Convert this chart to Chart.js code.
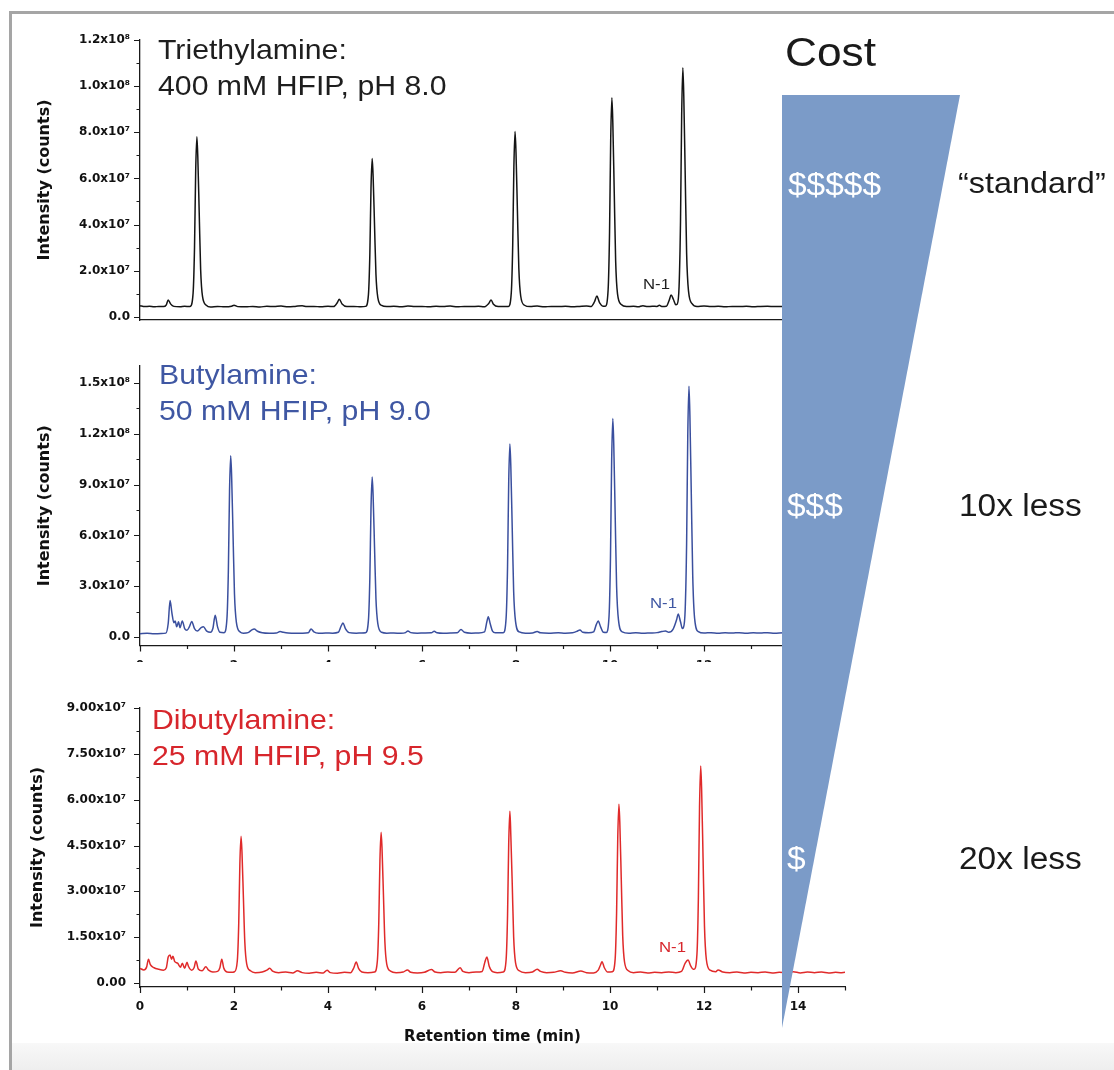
<!DOCTYPE html>
<html><head><meta charset="utf-8">
<script src="https://cdn.jsdelivr.net/npm/chart.js@4.4.1/dist/chart.umd.min.js"></script>
<style>
html,body{margin:0;padding:0;background:#fff;}
#stage{position:relative;width:1114px;height:1070px;overflow:hidden;background:#fff;font-family:"Liberation Sans",Arial,sans-serif;}
.pane{position:absolute;left:0;width:1114px;overflow:hidden;}
.pane canvas{display:block;}
.txt{position:absolute;white-space:nowrap;transform-origin:0 0;transform:scaleX(1.08);}
</style></head><body>
<div id="stage">
  <div style="position:absolute;left:9px;top:11px;width:3px;height:1059px;background:#a5a5a5"></div>
  <div style="position:absolute;left:9px;top:11px;width:1105px;height:3px;background:#a5a5a5"></div>
  <div style="position:absolute;left:12px;top:1043px;width:1102px;height:27px;background:linear-gradient(#f8f8f8,#eeeeee)"></div>

  <div class="pane" style="top:0;height:340px"><canvas id="c1" width="1114" height="340" style="width:1114px;height:340px"></canvas></div>
  <div class="pane" style="top:330px;height:332px"><canvas id="c2" width="1114" height="340" style="width:1114px;height:340px"></canvas></div>
  <div class="pane" style="top:662px;height:408px"><canvas id="c3" width="1114" height="408" style="width:1114px;height:408px"></canvas></div>

  <div class="txt" style="left:158px;top:32px;font-size:28px;line-height:36px;color:#1e1e1e">Triethylamine:<br>400 mM HFIP, pH 8.0</div>
  <div class="txt" style="left:159px;top:357px;font-size:28px;line-height:36px;color:#3f57a3">Butylamine:<br>50 mM HFIP, pH 9.0</div>
  <div class="txt" style="left:152px;top:702px;font-size:28px;line-height:36px;color:#d7262c">Dibutylamine:<br>25 mM HFIP, pH 9.5</div>

  <div class="txt" style="left:643px;top:276px;font-size:15.5px;line-height:15px;color:#1e1e1e">N-1</div>
  <div class="txt" style="left:650px;top:595px;font-size:15.5px;line-height:15px;color:#3f57a3">N-1</div>
  <div class="txt" style="left:659px;top:939px;font-size:15.5px;line-height:15px;color:#d7262c">N-1</div>

  <svg style="position:absolute;left:0;top:0" width="1114" height="1070"><polygon points="782,95 960,95 782,1028" fill="#7b9bc8"/></svg>

  <div class="txt" style="left:785px;top:32px;font-size:41px;line-height:41px;color:#1a1a1a">Cost</div>
  <div class="txt" style="left:788px;top:169px;font-size:31px;line-height:31px;color:#ffffff">$$$$$</div>
  <div class="txt" style="left:958px;top:168px;font-size:30px;line-height:30px;color:#1a1a1a">“standard”</div>
  <div class="txt" style="left:787px;top:490px;font-size:31px;line-height:31px;color:#ffffff">$$$</div>
  <div class="txt" style="left:959px;top:490px;font-size:31px;line-height:31px;color:#1a1a1a">10x less</div>
  <div class="txt" style="left:787px;top:843px;font-size:31px;line-height:31px;color:#ffffff">$</div>
  <div class="txt" style="left:959px;top:843px;font-size:31px;line-height:31px;color:#1a1a1a">20x less</div>
</div>
<script>
// ---------------- data ----------------
const timeTicks = [0, 2, 4, 6, 8, 10, 12, 14];
const timeTickLabels = ['0', '2', '4', '6', '8', '10', '12', '14'];
const timeMinorTicks = [1, 3, 5, 7, 9, 11, 13, 15];

const teaTicks = [0, 2e7, 4e7, 6e7, 8e7, 1e8, 1.2e8];
const teaTickLabels = ['0.0', '2.0x10⁷', '4.0x10⁷', '6.0x10⁷', '8.0x10⁷', '1.0x10⁸', '1.2x10⁸'];
const teaMinorTicks = [1e7, 3e7, 5e7, 7e7, 9e7, 1.1e8];

const buaTicks = [0, 3e7, 6e7, 9e7, 1.2e8, 1.5e8];
const buaTickLabels = ['0.0', '3.0x10⁷', '6.0x10⁷', '9.0x10⁷', '1.2x10⁸', '1.5x10⁸'];
const buaMinorTicks = [1.5e7, 4.5e7, 7.5e7, 1.05e8, 1.35e8];

const dbaTicks = [0, 1.5e7, 3e7, 4.5e7, 6e7, 7.5e7, 9e7];
const dbaTickLabels = ['0.00', '1.50x10⁷', '3.00x10⁷', '4.50x10⁷', '6.00x10⁷', '7.50x10⁷', '9.00x10⁷'];
const dbaMinorTicks = [0.75e7, 2.25e7, 3.75e7, 5.25e7, 6.75e7, 8.25e7];

// Triethylamine trace: [retention time (min), intensity (counts)]
const teaTrace = [
  [0.00, 4.8e6], [0.1, 4.4e6], [0.2, 4.6e6], [0.3, 4.3e6], [0.4, 4.5e6], [0.5, 4.4e6], [0.56, 5.2e6], [0.6, 7.3e6], [0.65, 5.6e6], [0.72, 4.5e6], [0.85, 4.3e6], [0.95, 4.6e6], [1.05, 4.4e6],
  [1.07, 4.5e6], [1.13, 10.3e6], [1.16, 30.2e6], [1.185, 63.3e6], [1.21, 78e6], [1.23, 69.2e6], [1.26, 44.9e6], [1.29, 20.6e6], [1.33, 8.8e6], [1.41, 5.0e6],
  [1.5, 4.2e6], [1.65, 4.5e6], [1.8, 4.3e6], [1.95, 4.6e6], [2.0, 5.0e6], [2.08, 4.4e6], [2.25, 4.3e6], [2.4, 4.5e6], [2.55, 4.2e6], [2.7, 4.6e6], [2.85, 4.4e6], [3.0, 4.7e6], [3.15, 4.3e6], [3.3, 4.5e6], [3.45, 4.8e6], [3.55, 4.4e6], [3.7, 4.5e6], [3.85, 4.3e6], [4.0, 4.6e6], [4.12, 4.4e6], [4.2, 6.2e6], [4.24, 7.6e6], [4.3, 5.5e6], [4.4, 4.4e6], [4.55, 4.5e6], [4.7, 4.3e6],
  [4.80, 4.5e6], [4.86, 9.5e6], [4.89, 26.9e6], [4.915, 55.8e6], [4.94, 68.6e6], [4.96, 60.9e6], [4.99, 39.7e6], [5.02, 18.5e6], [5.06, 8.3e6], [5.14, 4.9e6],
  [5.25, 4.4e6], [5.4, 4.6e6], [5.55, 4.3e6], [5.7, 4.7e6], [5.85, 4.4e6], [6.0, 4.5e6], [6.15, 4.3e6], [6.3, 4.6e6], [6.45, 4.4e6], [6.6, 4.7e6], [6.75, 4.3e6], [6.9, 4.5e6], [7.05, 4.4e6], [7.2, 4.6e6], [7.32, 4.3e6], [7.42, 5.8e6], [7.47, 7.3e6], [7.52, 5.4e6], [7.62, 4.4e6], [7.75, 4.5e6],
  [7.84, 4.5e6], [7.90, 10.5e6], [7.93, 31.0e6], [7.955, 65.1e6], [7.98, 80.3e6], [8.00, 71.2e6], [8.03, 46.1e6], [8.06, 21.1e6], [8.10, 9.0e6], [8.18, 5.0e6],
  [8.3, 4.4e6], [8.45, 4.7e6], [8.6, 4.3e6], [8.75, 4.5e6], [8.9, 4.4e6], [9.05, 4.6e6], [9.2, 4.3e6], [9.35, 4.5e6], [9.5, 4.7e6], [9.6, 4.5e6], [9.67, 6.5e6], [9.72, 9.0e6], [9.78, 6.0e6], [9.85, 4.6e6],
  [9.90, 4.6e6], [9.96, 11.7e6], [9.99, 36.2e6], [10.015, 76.9e6], [10.04, 95e6], [10.06, 84.1e6], [10.09, 54.3e6], [10.12, 24.4e6], [10.16, 9.9e6], [10.24, 5.3e6],
  [10.35, 4.4e6], [10.5, 4.6e6], [10.6, 4.3e6], [10.7, 4.8e6], [10.8, 4.4e6], [10.9, 4.6e6], [11.0, 4.5e6], [11.05, 5.0e6], [11.1, 4.5e6], [11.2, 4.6e6], [11.26, 7.2e6], [11.3, 9.4e6], [11.35, 7.5e6], [11.4, 5.2e6],
  [11.43, 5.5e6], [11.47, 13.2e6], [11.50, 41.1e6], [11.525, 87.4e6], [11.55, 108e6], [11.57, 95.6e6], [11.60, 61.7e6], [11.63, 27.7e6], [11.67, 11.2e6], [11.75, 5.6e6],
  [11.85, 4.5e6], [12.0, 4.7e6], [12.15, 4.4e6], [12.3, 4.6e6], [12.45, 4.3e6], [12.6, 4.5e6], [12.75, 4.4e6], [12.9, 4.6e6], [13.05, 4.3e6], [13.2, 4.5e6], [13.35, 4.6e6], [13.5, 4.4e6], [13.65, 4.5e6], [13.8, 4.3e6], [13.95, 4.6e6], [14.1, 4.4e6], [14.3, 4.5e6], [14.5, 4.4e6], [14.7, 4.6e6], [15.0, 4.5e6]
];

// Butylamine trace
const buaTrace = [
  [0.0, 2.0e6], [0.15, 2.2e6], [0.3, 1.9e6], [0.45, 2.1e6], [0.55, 2.3e6], [0.6, 8e6], [0.64, 21.5e6], [0.68, 14e6], [0.72, 8.5e6], [0.75, 9.5e6], [0.78, 6e6], [0.82, 9e6], [0.85, 5.5e6], [0.9, 9.5e6], [0.95, 5e6], [1.0, 4e6], [1.05, 6e6], [1.1, 9.2e6], [1.16, 5e6], [1.22, 3.5e6], [1.3, 5.5e6], [1.35, 6e6], [1.42, 3.5e6], [1.5, 2.8e6], [1.55, 5e6], [1.6, 12.8e6], [1.65, 6e6], [1.7, 2.8e6], [1.79, 2.6e6],
  [1.85, 10.9e6], [1.88, 39.1e6], [1.905, 86.1e6], [1.93, 107e6], [1.95, 94.5e6], [1.98, 60e6], [2.01, 25.5e6], [2.05, 8.8e6], [2.13, 3.0e6],
  [2.2, 2.3e6], [2.3, 2.6e6], [2.38, 4.2e6], [2.43, 4.7e6], [2.5, 3.4e6], [2.6, 2.5e6], [2.75, 2.2e6], [2.9, 2.4e6], [2.98, 3.2e6], [3.05, 2.8e6], [3.15, 2.4e6], [3.3, 2.2e6], [3.45, 2.3e6], [3.58, 2.5e6], [3.64, 4.8e6], [3.7, 3e6], [3.8, 2.2e6], [3.95, 2.4e6], [4.1, 2.3e6], [4.22, 2.8e6], [4.28, 6.5e6], [4.32, 8.3e6], [4.37, 5e6], [4.45, 2.6e6], [4.6, 2.3e6], [4.72, 2.4e6],
  [4.80, 2.5e6], [4.86, 9.8e6], [4.89, 34.6e6], [4.915, 76.1e6], [4.94, 94.5e6], [4.96, 83.4e6], [4.99, 53.1e6], [5.02, 22.7e6], [5.06, 7.9e6], [5.14, 2.8e6],
  [5.25, 2.3e6], [5.4, 2.4e6], [5.55, 2.2e6], [5.65, 2.6e6], [5.7, 3.6e6], [5.76, 2.6e6], [5.9, 2.3e6], [6.05, 2.4e6], [6.2, 2.5e6], [6.26, 3.4e6], [6.32, 2.5e6], [6.45, 2.2e6], [6.6, 2.4e6], [6.75, 2.5e6], [6.83, 4.5e6], [6.9, 2.8e6], [7.05, 2.3e6], [7.2, 2.4e6], [7.33, 3e6], [7.38, 9e6], [7.41, 12e6], [7.45, 8e6], [7.5, 3.5e6], [7.56, 2.6e6],
  [7.73, 2.6e6], [7.79, 11.4e6], [7.82, 41.5e6], [7.845, 91.7e6], [7.87, 114e6], [7.89, 100.6e6], [7.92, 63.8e6], [7.95, 27e6], [7.99, 9.2e6], [8.07, 3.0e6],
  [8.2, 2.3e6], [8.35, 2.4e6], [8.45, 3.2e6], [8.52, 2.5e6], [8.7, 2.3e6], [8.9, 2.5e6], [9.05, 2.3e6], [9.2, 2.5e6], [9.3, 3.4e6], [9.36, 4.2e6], [9.42, 2.8e6], [9.55, 2.5e6], [9.65, 3e6], [9.71, 7.5e6], [9.75, 9.4e6], [9.8, 6e6], [9.86, 2.8e6],
  [9.92, 2.7e6], [9.98, 12.6e6], [10.01, 46.8e6], [10.035, 103.7e6], [10.06, 129e6], [10.08, 113.8e6], [10.11, 72.1e6], [10.14, 30.3e6], [10.18, 10.1e6], [10.26, 3.1e6],
  [10.4, 2.3e6], [10.55, 2.5e6], [10.7, 2.2e6], [10.85, 2.4e6], [11.0, 2.6e6], [11.1, 3.2e6], [11.18, 3.6e6], [11.25, 2.8e6], [11.34, 4.5e6], [11.42, 10.5e6], [11.45, 13.6e6], [11.5, 9e6], [11.54, 5.0e6],
  [11.56, 5.5e6], [11.60, 16.4e6], [11.63, 55e6], [11.655, 119.4e6], [11.68, 148e6], [11.70, 130.8e6], [11.73, 83.7e6], [11.76, 36.5e6], [11.80, 11.1e6], [11.88, 3.2e6],
  [12.0, 2.4e6], [12.15, 2.6e6], [12.3, 2.3e6], [12.45, 2.5e6], [12.6, 2.4e6], [12.75, 2.6e6], [12.9, 2.3e6], [13.05, 2.5e6], [13.2, 2.4e6], [13.35, 2.6e6], [13.5, 2.3e6], [13.7, 2.5e6], [14.0, 2.4e6], [14.5, 2.5e6], [15.0, 2.4e6]
];

// Dibutylamine trace
const dbaTrace = [
  [0.0, 4.8e6], [0.08, 4.3e6], [0.14, 5.2e6], [0.18, 7.8e6], [0.22, 6e6], [0.3, 5e6], [0.4, 4.5e6], [0.5, 4.2e6], [0.56, 5e6], [0.6, 8.5e6], [0.64, 9.2e6], [0.67, 7.8e6], [0.7, 8.8e6], [0.74, 7e6], [0.8, 6.5e6], [0.86, 5.2e6], [0.9, 6.5e6], [0.95, 4.8e6], [1.0, 6.8e6], [1.03, 5.5e6], [1.1, 4.2e6], [1.15, 5e6], [1.19, 7.2e6], [1.24, 4.6e6], [1.32, 4e6], [1.4, 5.3e6], [1.46, 4.2e6], [1.55, 3.6e6], [1.65, 3.8e6], [1.7, 5e6], [1.74, 7.8e6], [1.78, 5e6], [1.85, 3.6e6], [1.95, 3.5e6],
  [2.01, 3.7e6], [2.07, 7.2e6], [2.10, 19.1e6], [2.125, 39.1e6], [2.15, 48e6], [2.17, 42.7e6], [2.20, 28e6], [2.23, 13.4e6], [2.27, 6.3e6], [2.35, 4e6],
  [2.45, 3.4e6], [2.6, 3.6e6], [2.7, 4.2e6], [2.76, 4.8e6], [2.82, 3.9e6], [2.95, 3.4e6], [3.1, 3.6e6], [3.25, 3.3e6], [3.35, 4e6], [3.45, 3.4e6], [3.6, 3.2e6], [3.75, 3.5e6], [3.9, 3.3e6], [3.98, 4.2e6], [4.05, 3.4e6], [4.2, 3.2e6], [4.35, 3.5e6], [4.48, 3.4e6], [4.55, 5e6], [4.6, 6.9e6], [4.65, 4.8e6], [4.72, 3.6e6], [4.85, 3.4e6],
  [4.99, 3.6e6], [5.05, 7.2e6], [5.08, 19.5e6], [5.105, 40.1e6], [5.13, 49.3e6], [5.15, 43.8e6], [5.18, 28.7e6], [5.21, 13.6e6], [5.25, 6.2e6], [5.33, 3.9e6],
  [5.45, 3.4e6], [5.6, 3.6e6], [5.69, 4.3e6], [5.76, 3.5e6], [5.9, 3.3e6], [6.05, 3.5e6], [6.2, 4.4e6], [6.28, 3.6e6], [6.4, 3.4e6], [6.55, 3.6e6], [6.7, 3.5e6], [6.81, 5e6], [6.87, 3.8e6], [7.0, 3.4e6], [7.15, 3.6e6], [7.28, 3.8e6], [7.34, 7e6], [7.38, 8.5e6], [7.43, 5.5e6], [7.5, 3.7e6], [7.6, 3.4e6],
  [7.73, 3.6e6], [7.79, 7.7e6], [7.82, 22e6], [7.845, 45.7e6], [7.87, 56.2e6], [7.89, 48.3e6], [7.92, 32.5e6], [7.95, 15.1e6], [7.99, 6.7e6], [8.07, 4.0e6],
  [8.2, 3.4e6], [8.35, 3.6e6], [8.45, 4.5e6], [8.52, 3.8e6], [8.65, 3.4e6], [8.8, 3.5e6], [8.95, 4e6], [9.05, 3.5e6], [9.2, 3.3e6], [9.38, 3.9e6], [9.5, 3.4e6], [9.65, 3.3e6], [9.75, 4.2e6], [9.8, 6e6], [9.83, 7e6], [9.88, 5e6], [9.95, 3.6e6],
  [10.05, 3.7e6], [10.11, 7.9e6], [10.14, 22.8e6], [10.165, 47.5e6], [10.19, 58.5e6], [10.21, 51.9e6], [10.24, 33.8e6], [10.27, 15.6e6], [10.31, 6.8e6], [10.39, 4.0e6],
  [10.5, 3.4e6], [10.65, 3.6e6], [10.8, 3.3e6], [10.95, 3.5e6], [11.1, 3.4e6], [11.25, 3.6e6], [11.4, 3.4e6], [11.52, 3.8e6], [11.6, 6.5e6], [11.66, 7.5e6], [11.72, 5.5e6], [11.77, 4.5e6],
  [11.79, 4.5e6], [11.85, 9.4e6], [11.88, 27.5e6], [11.905, 57.6e6], [11.93, 71e6], [11.95, 63e6], [11.98, 40.9e6], [12.01, 18.7e6], [12.05, 7.7e6], [12.13, 4.2e6],
  [12.25, 3.7e6], [12.3, 4.3e6], [12.4, 3.6e6], [12.55, 3.4e6], [12.7, 3.6e6], [12.85, 3.3e6], [13.0, 3.5e6], [13.15, 3.4e6], [13.3, 3.6e6], [13.45, 3.3e6], [13.6, 3.5e6], [13.75, 3.4e6], [13.9, 3.7e6], [14.05, 3.3e6], [14.2, 3.6e6], [14.35, 3.4e6], [14.5, 3.6e6], [14.65, 3.3e6], [14.8, 3.5e6], [14.9, 3.4e6], [15.0, 3.5e6]
];

// ---------------- drawing ----------------
const AXIS_COLOR = '#1a1a1a';
const tickFont = { family: 'DejaVu Sans', weight: 'bold', size: 12 };
const titleFont = { family: 'DejaVu Sans', weight: 'bold', size: 16 };

const tickMarksPlugin = {
  id: 'tickMarks',
  afterDraw(chart, args, o) {
    const { ctx, chartArea: a, scales: { x, y } } = chart;
    ctx.save();
    ctx.strokeStyle = AXIS_COLOR;
    ctx.lineWidth = 1.2;
    ctx.beginPath();
    o.yMajor.forEach(v => { const p = Math.round(y.getPixelForValue(v)) + 0.5; ctx.moveTo(a.left - 6, p); ctx.lineTo(a.left, p); });
    o.yMinor.forEach(v => { const p = Math.round(y.getPixelForValue(v)) + 0.5; ctx.moveTo(a.left - 3.5, p); ctx.lineTo(a.left, p); });
    if (o.xMarks) {
      o.xMajor.forEach(v => { const p = Math.round(x.getPixelForValue(v)) + 0.5; ctx.moveTo(p, a.bottom); ctx.lineTo(p, a.bottom + 6); });
      o.xMinor.forEach(v => { const p = Math.round(x.getPixelForValue(v)) + 0.5; ctx.moveTo(p, a.bottom); ctx.lineTo(p, a.bottom + 3.5); });
    }
    ctx.stroke();
    ctx.restore();
  }
};

function makePanel(cfg) {
  return new Chart(document.getElementById(cfg.id), {
    type: 'line',
    data: {
      datasets: [{
        data: cfg.trace.map(p => ({ x: p[0], y: p[1] })),
        borderColor: cfg.color,
        borderWidth: 1.5,
        pointRadius: 0,
        cubicInterpolationMode: 'monotone',
        fill: false
      }]
    },
    options: {
      responsive: false,
      animation: false,
      devicePixelRatio: 1,
      layout: { padding: { left: 0, right: 269, top: cfg.padTop, bottom: cfg.padBottom } },
      plugins: {
        legend: { display: false },
        tooltip: { enabled: false },
        tickMarks: { yMajor: cfg.yTicks, yMinor: cfg.yMinor, xMarks: cfg.xMarks, xMajor: timeTicks, xMinor: timeMinorTicks }
      },
      scales: {
        x: {
          type: 'linear', min: 0, max: 15, bounds: 'data', position: 'bottom',
          grid: { display: false, drawTicks: false, drawOnChartArea: false },
          border: { display: true, color: AXIS_COLOR, width: 1.3 },
          afterBuildTicks: s => { s.ticks = timeTicks.map(v => ({ value: v })); },
          afterFit: s => { s.height = cfg.xHeight; },
          ticks: {
            display: cfg.xLabels, padding: cfg.xPad, autoSkip: false, maxRotation: 0, minRotation: 0,
            color: '#111', font: tickFont,
            callback: (v, i) => timeTickLabels[i]
          },
          title: cfg.xTitle
            ? { display: true, text: cfg.xTitle, color: '#111', font: { family: 'DejaVu Sans', weight: 'bold', size: 15 }, padding: { top: 0, bottom: 1 } }
            : { display: false }
        },
        y: {
          type: 'linear', min: cfg.yMin, max: cfg.yMax, bounds: 'data', position: 'left',
          grid: { display: false, drawTicks: false, drawOnChartArea: false },
          border: { display: true, color: AXIS_COLOR, width: 1.3 },
          afterBuildTicks: s => { s.ticks = cfg.yTicks.map(v => ({ value: v })); },
          afterFit: s => { s.width = 140; },
          ticks: {
            padding: cfg.yPad, autoSkip: false, color: '#111', font: tickFont,
            callback: (v, i) => cfg.yLabels[i]
          },
          title: { display: true, text: 'Intensity (counts)', color: '#111', font: titleFont, padding: { top: cfg.yTitlePad, bottom: 0 } }
        }
      }
    },
    plugins: [tickMarksPlugin]
  });
}

makePanel({
  id: 'c1', trace: teaTrace, color: '#141414',
  yMin: -1.4e6, yMax: 1.2e8, yTicks: teaTicks, yLabels: teaTickLabels, yMinor: teaMinorTicks,
  padTop: 40, padBottom: 0, xHeight: 20, xLabels: false, xMarks: false, xPad: 10,
  yPad: 10, yTitlePad: 35.4
});
makePanel({
  id: 'c2', trace: buaTrace, color: '#3a4f9e',
  yMin: -5e6, yMax: 1.6e8, yTicks: buaTicks, yLabels: buaTickLabels, yMinor: buaMinorTicks,
  padTop: 36, padBottom: 0, xHeight: 24.5, xLabels: true, xMarks: true, xPad: 13,
  yPad: 10, yTitlePad: 35.4
});
makePanel({
  id: 'c3', trace: dbaTrace, color: '#e02a2a',
  yMin: -1.3e6, yMax: 9e7, yTicks: dbaTicks, yLabels: dbaTickLabels, yMinor: dbaMinorTicks,
  padTop: 46, padBottom: 23, xHeight: 60, xLabels: true, xMarks: true, xPad: 13,
  yPad: 14, yTitlePad: 28.4, xTitle: 'Retention time (min)'
});
</script>
</body></html>
